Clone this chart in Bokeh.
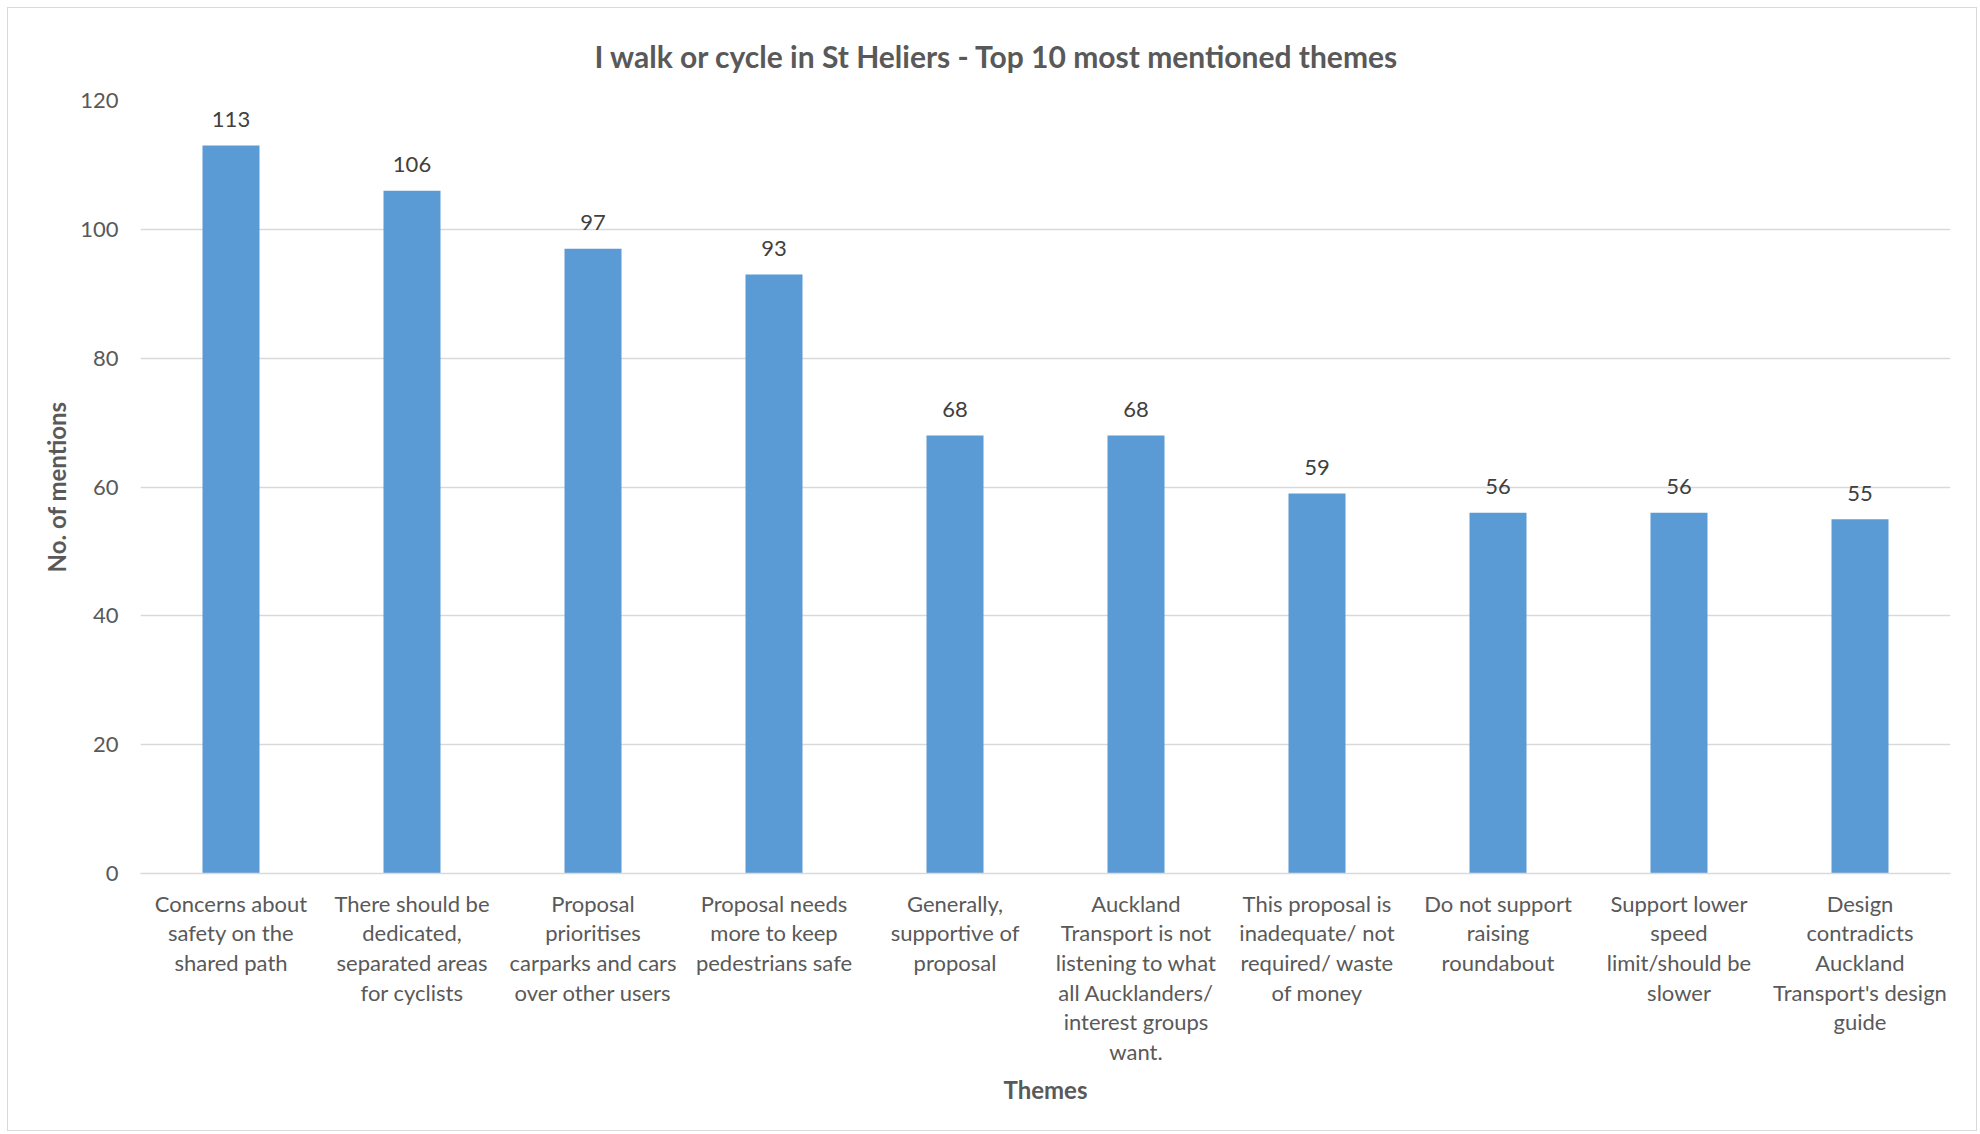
from bokeh.plotting import figure
from bokeh.models import FactorRange, Range1d, FixedTicker, ColumnDataSource
from bokeh.embed import file_html
from bokeh.resources import INLINE

# ---- data ----
categories = [
    "Concerns about\nsafety on the\nshared path",
    "There should be\ndedicated,\nseparated areas\nfor cyclists",
    "Proposal\nprioritises\ncarparks and cars\nover other users",
    "Proposal needs\nmore to keep\npedestrians safe",
    "Generally,\nsupportive of\nproposal",
    "Auckland\nTransport is not\nlistening to what\nall Aucklanders/\ninterest groups\nwant.",
    "This proposal is\ninadequate/ not\nrequired/ waste\nof money",
    "Do not support\nraising\nroundabout",
    "Support lower\nspeed\nlimit/should be\nslower",
    "Design\ncontradicts\nAuckland\nTransport's design\nguide",
]
mentions = [113, 106, 97, 93, 68, 68, 59, 56, 56, 55]
y_ticks = [0, 20, 40, 60, 80, 100, 120]

title_text = "I walk or cycle in St Heliers - Top 10 most mentioned themes"
x_title = "Themes"
y_title = "No. of mentions"

FONT = "Lato"
GREY = "#595959"

src = ColumnDataSource(dict(cat=categories, val=mentions, lbl=[str(v) for v in mentions]))

p = figure(
    x_range=FactorRange(factors=categories, range_padding=0),
    y_range=Range1d(0, 120),
    width=1970, height=1124,
    output_backend="svg", toolbar_location=None,
    min_border_left=132, min_border_right=28, min_border_top=91, min_border_bottom=259,
)
p.styles = {"border": "1.5px solid #d9d9d9", "box-sizing": "border-box",
            "margin-left": "7px", "margin-top": "7px"}
p.outline_line_color = None
p.background_fill_color = "white"
p.border_fill_color = "white"

p.vbar(x="cat", top="val", width=0.315, source=src, color="#5b9bd5", line_color=None)
p.text(x="cat", y="val", text="lbl", source=src, text_align="center", text_baseline="middle",
       y_offset=-26, text_font_size="22px", text_color="#404040", text_font={"value": FONT})

# title (centred over the whole chart, as in the reference)
p.title.text = title_text
p.title.align = "left"
p.title.offset = 454
p.title.text_font = FONT
p.title.text_font_style = "bold"
p.title.text_font_size = "30px"
p.title.text_color = GREY
p.title.standoff = 54

# grids
p.xgrid.grid_line_color = None
p.ygrid.grid_line_color = "#d9d9d9"
p.ygrid.grid_line_width = 1.3

# y axis
p.yaxis.ticker = FixedTicker(ticks=y_ticks)
p.yaxis.axis_line_color = None
p.yaxis.major_tick_line_color = None
p.yaxis.minor_tick_line_color = None
p.yaxis.major_label_text_font = FONT
p.yaxis.major_label_text_font_size = "22px"
p.yaxis.major_label_text_color = GREY
p.yaxis.major_label_standoff = 16
p.yaxis.axis_label = y_title
p.yaxis.axis_label_text_font = FONT
p.yaxis.axis_label_text_font_style = "bold"
p.yaxis.axis_label_text_font_size = "24px"
p.yaxis.axis_label_text_color = GREY
p.yaxis.axis_label_standoff = 6

# x axis
p.xaxis.axis_line_color = "#d9d9d9"
p.xaxis.axis_line_width = 1.5
p.xaxis.major_tick_line_color = None
p.xaxis.minor_tick_line_color = None
p.xaxis.major_label_text_font = FONT
p.xaxis.major_label_text_font_size = "22px"
p.xaxis.major_label_text_color = GREY
p.xaxis.major_label_text_line_height = 1.1
p.xaxis.major_label_standoff = 10
p.xaxis.major_label_orientation = "horizontal"
p.xaxis.axis_label = x_title
p.xaxis.axis_label_text_font = FONT
p.xaxis.axis_label_text_font_style = "bold"
p.xaxis.axis_label_text_font_size = "24px"
p.xaxis.axis_label_text_color = GREY
p.xaxis.axis_label_standoff = 7

open("out.html", "w").write(file_html(p, INLINE))
